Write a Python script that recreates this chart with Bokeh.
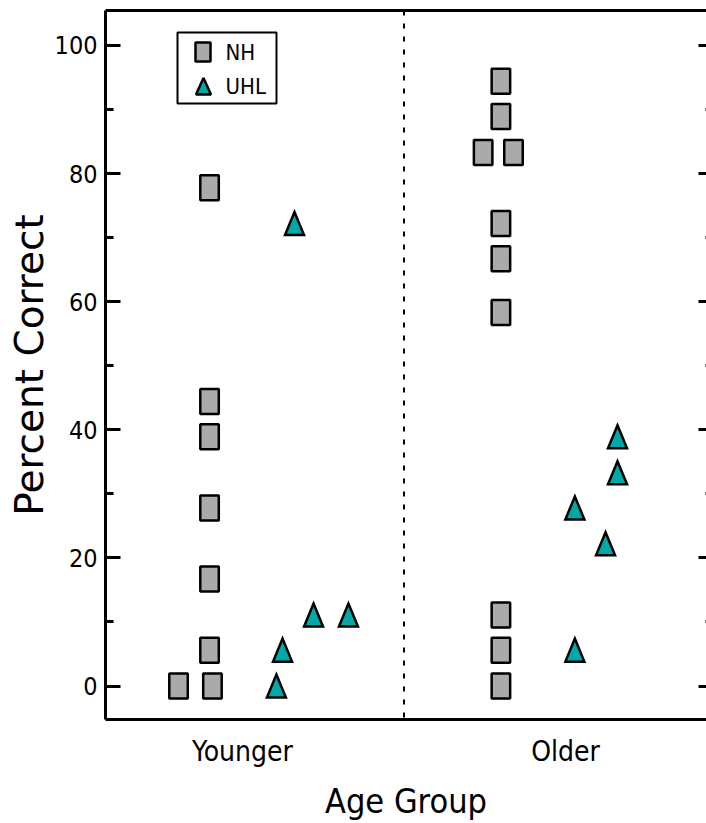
from bokeh.plotting import figure
from bokeh.models import (ColumnDataSource, FixedTicker, LinearAxis, Range1d, Span,
                          BoxAnnotation, PolyAnnotation, Label)
from bokeh.embed import file_html
from bokeh.resources import INLINE
from bokeh.core.properties import value

# ---------------- data ----------------
groups = ["Younger", "Older"]

nh_group = ["Younger"] * 8 + ["Older"] * 10
nh_offset = [-0.102, -0.102, -0.102, -0.102, -0.102, -0.102, -0.198, -0.093,
             -0.200, -0.200, -0.255, -0.161, -0.200, -0.200, -0.200, -0.200, -0.200, -0.200]
nh_score = [77.8, 44.4, 38.9, 27.8, 16.7, 5.6, 0.0, 0.0,
            94.4, 88.9, 83.3, 83.3, 72.2, 66.7, 58.3, 11.1, 5.6, 0.0]

uhl_group = ["Younger"] * 5 + ["Older"] * 5
uhl_offset = [0.161, 0.220, 0.328, 0.124, 0.105,
              0.161, 0.161, 0.029, 0.124, 0.029]
uhl_score = [72.2, 11.1, 11.1, 5.6, 0.0,
             38.9, 33.3, 27.8, 22.2, 5.6]

y_ticks = [0, 20, 40, 60, 80, 100]
y_minor = [10, 30, 50, 70, 90]
legend_labels = ["NH", "UHL"]

# ---------------- style ----------------
NARROW = "DejaVu Sans Condensed, Roboto, sans-serif"
WIDE = "DejaVu Sans"
GRAY = "#aaaaaa"
TEAL = "#00a8a8"

W, H = 706, 823
FL, FR, FT, FB = 105, 706, 10, 719          # frame edges in pixels
X0, X1 = 0.5759, 2.4365
Y0, Y1 = -5.23, 105.46
PX_X = (FR - FL) / (X1 - X0)                 # pixels per x unit
PX_Y = (FB - FT) / (Y1 - Y0)                 # pixels per y unit


def sx(px):
    return X0 + (px - FL) / PX_X


def sy(py):
    return Y1 - (py - FT) / PX_Y


pos = {g: i + 1 for i, g in enumerate(groups)}

nh_x = [pos[g] + o for g, o in zip(nh_group, nh_offset)]
uhl_x = [pos[g] + o for g, o in zip(uhl_group, uhl_offset)]

# triangle marker shape (screen size converted into data units)
TRI_HW = 9.5 / PX_X
TRI_H = 23.0 / PX_Y
tri_xs = [[x - TRI_HW, x + TRI_HW, x] for x in uhl_x]
tri_ys = [[y - TRI_H / 2, y - TRI_H / 2, y + TRI_H / 2] for y in uhl_score]

nh_src = ColumnDataSource(dict(x=nh_x, y=nh_score))
uhl_src = ColumnDataSource(dict(xs=tri_xs, ys=tri_ys))

p = figure(width=W, height=H, x_range=Range1d(X0, X1), y_range=Range1d(Y0, Y1),
           x_axis_type=None, y_axis_type=None,
           output_backend="svg", toolbar_location=None,
           min_border_left=FL, min_border_right=W - FR,
           min_border_top=FT, min_border_bottom=H - FB)
p.outline_line_color = None
p.background_fill_color = "white"
p.border_fill_color = "white"

# ---------------- axes ----------------
left = LinearAxis(ticker=FixedTicker(ticks=y_ticks, minor_ticks=y_minor),
                  axis_label="Percent Correct",
                  axis_label_text_font=WIDE, axis_label_text_font_size="39px",
                  axis_label_text_font_style="normal", axis_label_text_color="black",
                  axis_label_standoff=0,
                  major_label_text_font=NARROW, major_label_text_font_size="25px",
                  major_label_text_color="black", major_label_standoff=8,
                  major_tick_in=15, major_tick_out=0, minor_tick_in=8, minor_tick_out=0,
                  axis_line_width=3, major_tick_line_width=3, minor_tick_line_width=3)
p.add_layout(left, "left")

right = LinearAxis(ticker=FixedTicker(ticks=y_ticks, minor_ticks=y_minor),
                   axis_line_color=None,
                   major_label_text_font_size="0px", major_label_standoff=0,
                   major_label_overrides={t: "" for t in y_ticks},
                   major_tick_in=8, major_tick_out=0, minor_tick_in=1, minor_tick_out=0,
                   major_tick_line_width=3, minor_tick_line_width=3)
p.add_layout(right, "right")

top = LinearAxis(ticker=FixedTicker(ticks=[]), axis_line_width=3,
                 major_tick_in=0, major_tick_out=0, minor_tick_in=0, minor_tick_out=0,
                 major_label_text_font_size="0px", major_label_standoff=0)
p.add_layout(top, "above")

bottom = LinearAxis(ticker=FixedTicker(ticks=[pos[g] for g in groups]),
                    major_label_overrides={pos[g]: g for g in groups},
                    axis_label="Age Group",
                    axis_label_text_font=NARROW, axis_label_text_font_size="34px",
                    axis_label_text_font_style="normal", axis_label_text_color="black",
                    axis_label_standoff=10,
                    major_label_text_font=NARROW, major_label_text_font_size="28px",
                    major_label_text_color="black", major_label_standoff=15,
                    major_tick_in=0, major_tick_out=0, minor_tick_in=0, minor_tick_out=0,
                    axis_line_width=3)
p.add_layout(bottom, "below")

# group divider
divider = Span(location=(pos[groups[0]] + pos[groups[1]]) / 2, dimension="height",
               line_color="black", line_width=2, line_dash="5 8")
p.add_layout(divider)

# ---------------- glyphs ----------------
p.rect("x", "y", width=18.5, height=25, width_units="screen", height_units="screen",
       source=nh_src, fill_color=GRAY, line_color="black", line_width=2.5)
p.patches("xs", "ys", source=uhl_src, fill_color=TEAL, line_color="black",
          line_width=2.5, line_join="miter")

# ---------------- legend (drawn box) ----------------
p.add_layout(BoxAnnotation(left=sx(177), right=sx(276), top=sy(32), bottom=sy(103),
                           fill_color="white", fill_alpha=1.0,
                           line_color="black", line_width=2, line_alpha=1.0))
p.add_layout(BoxAnnotation(left=sx(195), right=sx(210), top=sy(42), bottom=sy(61),
                           fill_color=GRAY, fill_alpha=1.0,
                           line_color="black", line_width=2.5, line_alpha=1.0))
p.add_layout(PolyAnnotation(xs=[sx(195.5), sx(210.5), sx(203)],
                            ys=[sy(94), sy(94), sy(77.5)],
                            fill_color=TEAL, fill_alpha=1.0,
                            line_color="black", line_width=2.5, line_alpha=1.0))
for lab, py in zip(legend_labels, [52, 86]):
    p.add_layout(Label(x=sx(225), y=sy(py), text=lab, text_baseline="middle",
                       text_font=NARROW, text_font_size="22px", text_color="black"))

open("out.html", "w").write(file_html(p, INLINE))
